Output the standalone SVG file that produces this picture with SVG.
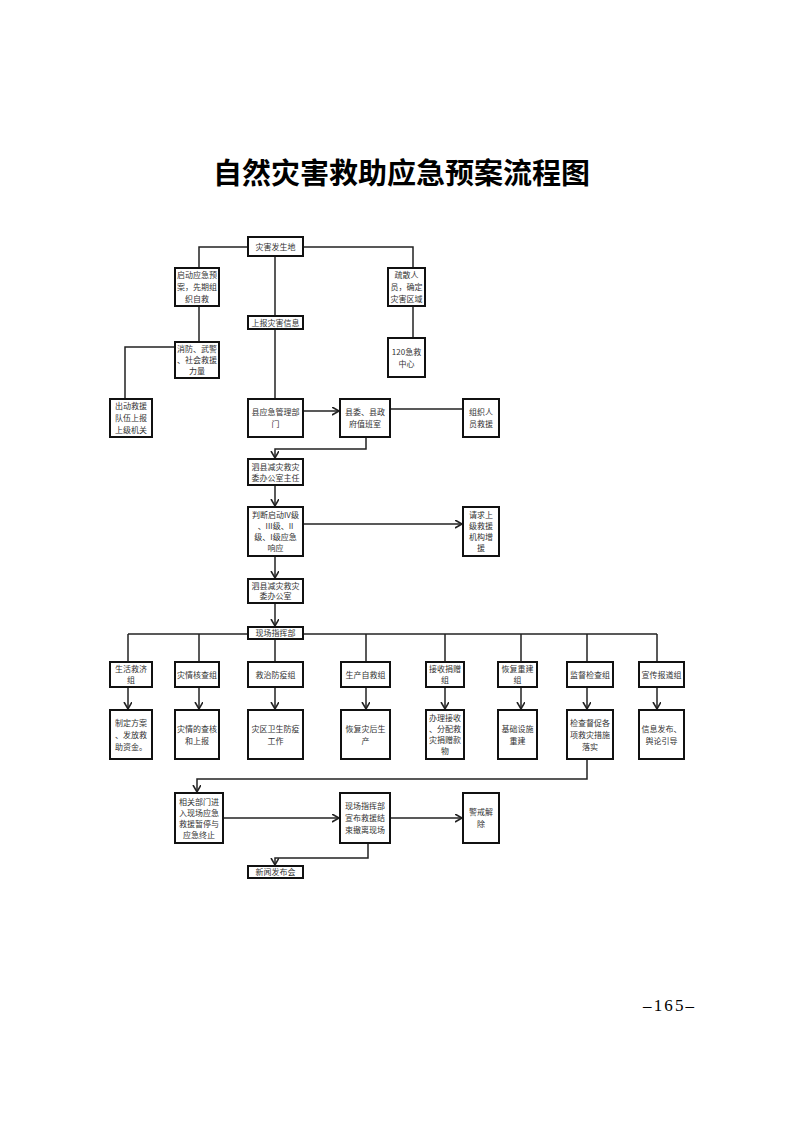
<svg xmlns="http://www.w3.org/2000/svg" width="793" height="1122" viewBox="0 0 793 1122">
<style>
.bg{fill:#fff}
.box{fill:#fff;stroke:#111;stroke-width:2}
.t{font-family:"Noto Sans CJK SC","Liberation Sans",sans-serif;font-size:8px;fill:#333;text-anchor:middle}
.c{fill:none;stroke:#222;stroke-width:1.5}
.title{font-family:"Liberation Serif","Noto Sans CJK SC",serif;font-size:29px;font-weight:bold;fill:#000;text-anchor:middle}
.pg{font-family:"Liberation Serif",serif;font-size:17px;fill:#000}
</style>
<defs>
<marker id="arr" markerUnits="userSpaceOnUse" markerWidth="9" markerHeight="9" refX="7" refY="4" orient="auto">
<path d="M0,0 L7,4 L0,8" fill="none" stroke="#222" stroke-width="1.6"/>
</marker>
</defs>
<rect class="bg" x="0" y="0" width="793" height="1122"/>
<text class="title" x="401.5" y="184">自然灾害救助应急预案流程图</text>
<text class="pg" x="643" y="1011" textLength="51">–165–</text>

<g id="connectors">
<path class="c" d="M275,256 V316"/>
<path class="c" d="M248,247 H199 V268"/>
<path class="c" d="M303,247 H413 V268"/>
<path class="c" d="M199,306 V342"/>
<path class="c" d="M175,347 H125 V399"/>
<path class="c" d="M413,306 V338"/>
<path class="c" d="M275,329 V399"/>
<path class="c" d="M303,411 H339" marker-end="url(#arr)"/>
<path class="c" d="M390,409 H463"/>
<path class="c" d="M366,437 V449 H275 V458" marker-end="url(#arr)"/>
<path class="c" d="M275,485 V506" marker-end="url(#arr)"/>
<path class="c" d="M303,524 H462" marker-end="url(#arr)"/>
<path class="c" d="M275,556 V578" marker-end="url(#arr)"/>
<path class="c" d="M275,603 V626" marker-end="url(#arr)"/>
<path class="c" d="M128,634 H657"/>
<path class="c" d="M128,634 V662"/>
<path class="c" d="M199,634 V662"/>
<path class="c" d="M275,639 V662"/>
<path class="c" d="M366,634 V662"/>
<path class="c" d="M445,634 V662"/>
<path class="c" d="M521,634 V662"/>
<path class="c" d="M587,634 V662"/>
<path class="c" d="M657,634 V662"/>
<path class="c" d="M128,687 V709" marker-end="url(#arr)"/>
<path class="c" d="M199,687 V709" marker-end="url(#arr)"/>
<path class="c" d="M275,687 V709" marker-end="url(#arr)"/>
<path class="c" d="M366,687 V709" marker-end="url(#arr)"/>
<path class="c" d="M445,687 V709" marker-end="url(#arr)"/>
<path class="c" d="M521,682 V709" marker-end="url(#arr)"/>
<path class="c" d="M587,687 V709" marker-end="url(#arr)"/>
<path class="c" d="M657,687 V709" marker-end="url(#arr)"/>
<path class="c" d="M587,759 V779 H197 V792" marker-end="url(#arr)"/>
<path class="c" d="M223,818 H339" marker-end="url(#arr)"/>
<path class="c" d="M390,818 H462" marker-end="url(#arr)"/>
<path class="c" d="M368,843 V858 H275 V865" marker-end="url(#arr)"/>
</g>

<g id="n_disaster"><rect class="box" x="248" y="237" width="55" height="19"/><text class="t" x="275.5" y="249.5">灾害发生地</text></g>
<g id="n_start"><rect class="box" x="175" y="268" width="44" height="38"/><text class="t" x="197" y="278">启动应急预</text><text class="t" x="197" y="290">案，先期组</text><text class="t" x="197" y="302">织自救</text></g>
<g id="n_evac"><rect class="box" x="388" y="268" width="37" height="38"/><text class="t" x="406.5" y="278">疏散人</text><text class="t" x="406.5" y="290">员，确定</text><text class="t" x="406.5" y="302">灾害区域</text></g>
<g id="n_report"><rect class="box" x="248" y="316" width="55" height="13"/><text class="t" x="275.5" y="325.5">上报灾害信息</text></g>
<g id="n_fire"><rect class="box" x="175" y="342" width="44" height="36"/><text class="t" x="197" y="352">消防、武警</text><text class="t" x="197" y="363">、社会救援</text><text class="t" x="197" y="374">力量</text></g>
<g id="n_120"><rect class="box" x="388" y="338" width="37" height="39"/><text class="t" x="406.5" y="354.5">120急救</text><text class="t" x="406.5" y="366.5">中心</text></g>
<g id="n_dispatch"><rect class="box" x="110" y="399" width="42" height="38"/><text class="t" x="131" y="409">出动救援</text><text class="t" x="131" y="421">队伍上报</text><text class="t" x="131" y="433">上级机关</text></g>
<g id="n_county"><rect class="box" x="248" y="399" width="55" height="38"/><text class="t" x="275.5" y="415">县应急管理部</text><text class="t" x="275.5" y="427">门</text></g>
<g id="n_duty"><rect class="box" x="340" y="399" width="50" height="38"/><text class="t" x="365" y="415">县委、县政</text><text class="t" x="365" y="427">府值班室</text></g>
<g id="n_org"><rect class="box" x="463" y="399" width="36" height="38"/><text class="t" x="481" y="415">组织人</text><text class="t" x="481" y="427">员救援</text></g>
<g id="n_director"><rect class="box" x="248" y="459" width="55" height="26"/><text class="t" x="275.5" y="469.5">泗县减灾救灾</text><text class="t" x="275.5" y="480.5">委办公室主任</text></g>
<g id="n_judge"><rect class="box" x="248" y="507" width="55" height="49"/><text class="t" x="275.5" y="518">判断启动IV级</text><text class="t" x="275.5" y="529">、III级、II</text><text class="t" x="275.5" y="540">级、I级应急</text><text class="t" x="275.5" y="551">响应</text></g>
<g id="n_request"><rect class="box" x="463" y="507" width="36" height="49"/><text class="t" x="481" y="518">请求上</text><text class="t" x="481" y="529">级救援</text><text class="t" x="481" y="540">机构增</text><text class="t" x="481" y="551">援</text></g>
<g id="n_office"><rect class="box" x="248" y="579" width="55" height="24"/><text class="t" x="275.5" y="589">泗县减灾救灾</text><text class="t" x="275.5" y="599">委办公室</text></g>
<g id="n_hq"><rect class="box" x="248" y="627" width="55" height="12"/><text class="t" x="275.5" y="636">现场指挥部</text></g>

<g id="g_live"><rect class="box" x="110" y="662" width="42" height="25"/><text class="t" x="131" y="672">生活救济</text><text class="t" x="131" y="683">组</text></g>
<g id="g_check"><rect class="box" x="175" y="662" width="44" height="25"/><text class="t" x="197" y="677.5">灾情核查组</text></g>
<g id="g_med"><rect class="box" x="248" y="662" width="55" height="25"/><text class="t" x="275.5" y="677.5">救治防疫组</text></g>
<g id="g_prod"><rect class="box" x="341" y="662" width="49" height="25"/><text class="t" x="365.5" y="677.5">生产自救组</text></g>
<g id="g_donate"><rect class="box" x="426" y="662" width="38" height="25"/><text class="t" x="445" y="672">接收捐赠</text><text class="t" x="445" y="683">组</text></g>
<g id="g_rebuild"><rect class="box" x="498" y="662" width="39" height="25"/><text class="t" x="517.5" y="672">恢复重建</text><text class="t" x="517.5" y="683">组</text></g>
<g id="g_super"><rect class="box" x="567" y="662" width="46" height="25"/><text class="t" x="590" y="677.5">监督检查组</text></g>
<g id="g_pub"><rect class="box" x="639" y="662" width="45" height="25"/><text class="t" x="661.5" y="677.5">宣传报道组</text></g>

<g id="b_live"><rect class="box" x="110" y="710" width="42" height="49"/><text class="t" x="131" y="725.5">制定方案</text><text class="t" x="131" y="737.5">、发放救</text><text class="t" x="131" y="749.5">助资金。</text></g>
<g id="b_check"><rect class="box" x="175" y="710" width="44" height="49"/><text class="t" x="197" y="731.5">灾情的查核</text><text class="t" x="197" y="743.5">和上报</text></g>
<g id="b_med"><rect class="box" x="248" y="710" width="55" height="49"/><text class="t" x="275.5" y="731.5">灾区卫生防疫</text><text class="t" x="275.5" y="743.5">工作</text></g>
<g id="b_prod"><rect class="box" x="341" y="710" width="49" height="49"/><text class="t" x="365.5" y="731.5">恢复灾后生</text><text class="t" x="365.5" y="743.5">产</text></g>
<g id="b_donate"><rect class="box" x="426" y="710" width="38" height="49"/><text class="t" x="445" y="721">办理接收</text><text class="t" x="445" y="732">、分配救</text><text class="t" x="445" y="743">灾捐赠款</text><text class="t" x="445" y="754">物</text></g>
<g id="b_rebuild"><rect class="box" x="498" y="710" width="39" height="49"/><text class="t" x="517.5" y="731.5">基础设施</text><text class="t" x="517.5" y="743.5">重建</text></g>
<g id="b_super"><rect class="box" x="567" y="710" width="46" height="49"/><text class="t" x="590" y="725.5">检查督促各</text><text class="t" x="590" y="737.5">项救灾措施</text><text class="t" x="590" y="749.5">落实</text></g>
<g id="b_pub"><rect class="box" x="639" y="710" width="45" height="49"/><text class="t" x="661.5" y="731.5">信息发布、</text><text class="t" x="661.5" y="743.5">舆论引导</text></g>

<g id="n_related"><rect class="box" x="175" y="793" width="48" height="50"/><text class="t" x="199" y="804.5">相关部门进</text><text class="t" x="199" y="815.5">入现场应急</text><text class="t" x="199" y="826.5">救援暂停与</text><text class="t" x="199" y="837.5">应急终止</text></g>
<g id="n_end"><rect class="box" x="340" y="793" width="50" height="50"/><text class="t" x="365" y="809">现场指挥部</text><text class="t" x="365" y="821">宣布救援结</text><text class="t" x="365" y="833">束撤离现场</text></g>
<g id="n_alert"><rect class="box" x="463" y="793" width="36" height="50"/><text class="t" x="481" y="815">警戒解</text><text class="t" x="481" y="827">除</text></g>
<g id="n_news"><rect class="box" x="248" y="866" width="55" height="12"/><text class="t" x="275.5" y="875">新闻发布会</text></g>
</svg>
